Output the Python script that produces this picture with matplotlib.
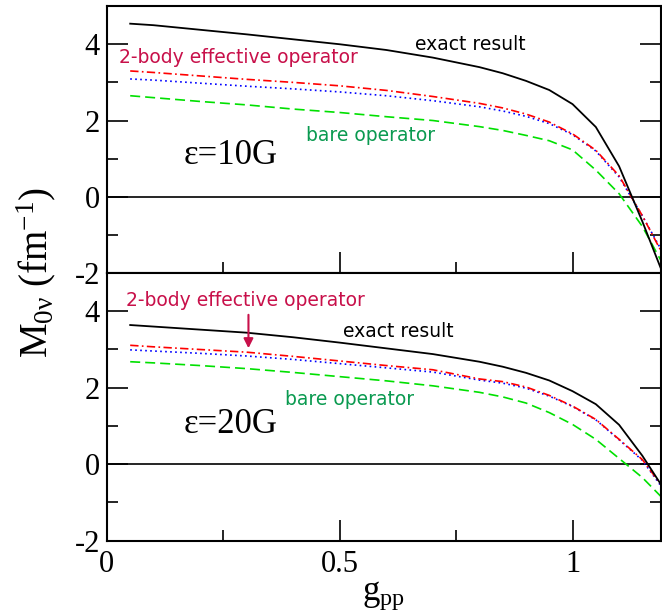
import matplotlib
matplotlib.use('Agg')
import matplotlib.pyplot as plt
from matplotlib.ticker import MultipleLocator

plt.rcParams['font.family'] = 'Liberation Serif'
plt.rcParams['mathtext.fontset'] = 'custom'
plt.rcParams['mathtext.rm'] = 'Liberation Serif'
plt.rcParams['mathtext.it'] = 'Liberation Serif:italic'
plt.rcParams['axes.unicode_minus'] = False

# g_pp grid
gpp = [0.05, 0.1, 0.2, 0.3, 0.4, 0.5, 0.6, 0.7, 0.8, 0.85, 0.9, 0.95, 1.0, 1.05, 1.1, 1.15, 1.2]

# epsilon = 10G
exact_10 = [4.54, 4.50, 4.38, 4.26, 4.13, 4.00, 3.85, 3.65, 3.40, 3.24, 3.04, 2.80, 2.43, 1.83, 0.80, -0.65, -2.2]
eff2_10 = [3.30, 3.26, 3.17, 3.08, 3.00, 2.91, 2.79, 2.63, 2.45, 2.33, 2.17, 1.96, 1.65, 1.22, 0.55, -0.50, -1.65]
dot_10 = [3.09, 3.06, 2.98, 2.90, 2.83, 2.75, 2.65, 2.52, 2.36, 2.25, 2.11, 1.92, 1.63, 1.20, 0.52, -0.50, -1.60]
bare_10 = [2.65, 2.60, 2.50, 2.41, 2.30, 2.21, 2.10, 2.00, 1.84, 1.74, 1.61, 1.47, 1.23, 0.70, 0.08, -0.78, -1.90]

# epsilon = 20G
exact_20 = [3.64, 3.60, 3.52, 3.44, 3.32, 3.18, 3.03, 2.88, 2.68, 2.55, 2.39, 2.19, 1.91, 1.57, 1.03, 0.22, -0.72]
eff2_20 = [3.11, 3.07, 3.00, 2.93, 2.82, 2.70, 2.58, 2.47, 2.23, 2.16, 2.02, 1.80, 1.52, 1.17, 0.65, 0.12, -0.70]
dot_20 = [2.99, 2.96, 2.90, 2.83, 2.74, 2.63, 2.52, 2.41, 2.20, 2.12, 1.99, 1.78, 1.51, 1.16, 0.64, 0.10, -0.74]
bare_20 = [2.68, 2.65, 2.58, 2.50, 2.40, 2.29, 2.18, 2.05, 1.88, 1.76, 1.60, 1.35, 1.04, 0.65, 0.15, -0.35, -0.97]

crimson = '#c8104a'
tgreen = '#0a9a50'

fig = plt.figure(figsize=(6.62, 6.13), dpi=100)
ax1 = fig.add_axes([0.1615, 0.5546, 0.837, 0.4354])
ax2 = fig.add_axes([0.1615, 0.1180, 0.837, 0.4366])


def panel(ax, ex, ef, dt, br):
    ax.axhline(0, color='black', lw=1.2)
    ax.plot(gpp, br, color='#00e000', ls=(0, (6, 3)), lw=1.2)
    ax.plot(gpp, dt, color='blue', ls=(0, (1, 2)), lw=1.2)
    ax.plot(gpp, ef, color='red', ls=(0, (5, 2, 1, 2)), lw=1.2)
    ax.plot(gpp, ex, color='black', lw=1.3)
    ax.set_xlim(0, 1.19)
    ax.set_ylim(-2, 5)
    ax.xaxis.set_major_locator(MultipleLocator(0.5))
    ax.xaxis.set_minor_locator(MultipleLocator(0.25))
    ax.yaxis.set_minor_locator(MultipleLocator(1))
    ax.set_yticks([-2, 0, 2, 4])
    ax.tick_params(which='both', direction='in', right=True, top=False, width=1.2, labelsize=22)
    ax.tick_params(which='major', length=15)
    ax.tick_params(which='minor', length=8)
    ax.tick_params(axis='y', pad=5)
    ax.tick_params(axis='x', pad=7)
    for s in ax.spines.values():
        s.set_linewidth(1.5)


panel(ax1, exact_10, eff2_10, dot_10, bare_10)
panel(ax2, exact_20, eff2_20, dot_20, bare_20)
ax1.tick_params(labelbottom=False)
ax2.set_xticks([0, 0.5, 1])
ax2.set_xticklabels(['0', '0.5', '1'])

# annotations, top panel
ax1.text(0.661, 4.0, 'exact result', family='DejaVu Sans', fontsize=13.5, va='center')
ax1.text(0.025, 3.65, '2-body effective operator', family='DejaVu Sans', fontsize=13.5,
         color=crimson, va='center')
ax1.text(0.428, 1.61, 'bare operator', family='DejaVu Sans', fontsize=13.5, color=tgreen, va='center')
ax1.text(0.164, 1.09, 'ε=10G', fontsize=25, va='center')

# annotations, bottom panel
ax2.text(0.507, 3.48, 'exact result', family='DejaVu Sans', fontsize=13.5, va='center')
ax2.text(0.04, 4.29, '2-body effective operator', family='DejaVu Sans', fontsize=13.5,
         color=crimson, va='center')
ax2.text(0.382, 1.70, 'bare operator', family='DejaVu Sans', fontsize=13.5, color=tgreen, va='center')
ax2.text(0.164, 1.04, 'ε=20G', fontsize=25, va='center')
ax2.annotate('', xy=(0.304, 2.96), xytext=(0.304, 3.98),
             arrowprops=dict(arrowstyle='-|>', color=crimson, lw=1.5, mutation_scale=14))

ax2.set_xlabel('g$_{\\mathrm{pp}}$', fontsize=25, labelpad=0)
fig.text(0.055, 0.555, 'M$_{\\mathrm{0ν}}$ (fm$^{\\mathrm{-1}}$)', fontsize=28, rotation=90,
         ha='center', va='center')

fig.savefig('out.png', dpi=100)
